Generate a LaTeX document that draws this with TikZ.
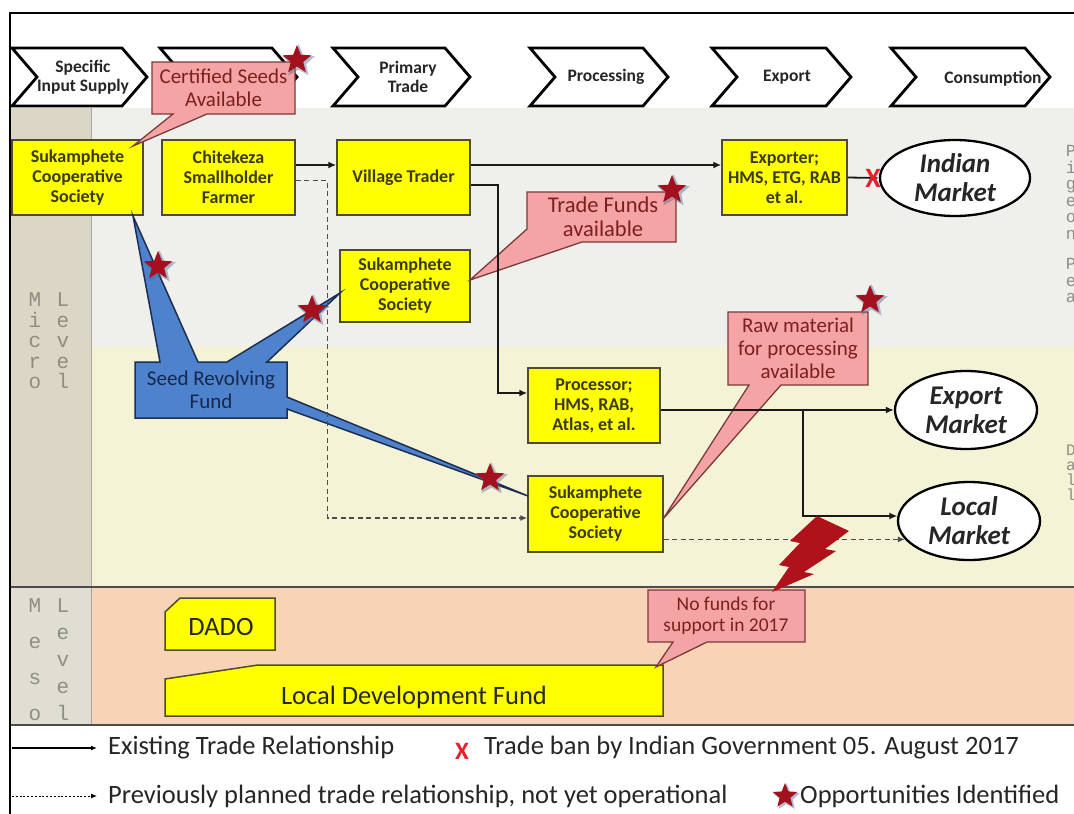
\documentclass[tikz,border=0pt]{standalone}
\usepackage{fontspec}
\setmainfont{Carlito}
\newfontfamily\typefont{Liberation Mono}
\usetikzlibrary{shapes.geometric,arrows.meta,calc}
\definecolor{grayband}{HTML}{EFEFEB}
\definecolor{yelband}{HTML}{F4F3D6}
\definecolor{microcol}{HTML}{DBD6C5}
\definecolor{mesocol}{HTML}{E0DDD3}
\definecolor{peach}{HTML}{F8D3B6}
\definecolor{yfill}{HTML}{FFFF00}
\definecolor{yborder}{HTML}{4D4D26}
\definecolor{ytext}{HTML}{3A3A14}
\definecolor{pfill}{HTML}{F4A4A4}
\definecolor{pborder}{HTML}{7A3A3A}
\definecolor{ptext}{HTML}{7D1F1F}
\definecolor{bfill}{HTML}{4E82CC}
\definecolor{bborder}{HTML}{1C2F52}
\definecolor{btext}{HTML}{15284D}
\definecolor{starred}{HTML}{A3101E}
\definecolor{starglow}{HTML}{5A6A9A}
\definecolor{boltred}{HTML}{B0121C}
\definecolor{lvlgray}{HTML}{8E8E84}
\definecolor{xred}{HTML}{E8202A}
\begin{document}
\begin{tikzpicture}[x=1pt,y=-1pt,
  chev/.style={draw=black, line width=2.8pt, fill=white, line join=miter},
  chevtext/.style={font=\fontsize{17.5}{19}\selectfont\bfseries, align=center, text=black!85, inner sep=0pt},
  ybox/.style={draw=yborder, fill=yfill, line width=1.5pt, font=\fontsize{18}{20}\selectfont\bfseries, text=ytext, align=center, inner sep=0pt},
  yshape/.style={draw=yborder, fill=yfill, line width=1.5pt, line join=miter},
  ytxt/.style={font=\fontsize{26.5}{28}\selectfont, text=black!85, inner sep=0pt},
  mkt/.style={ellipse, draw=black, line width=2.3pt, fill=white, font=\fontsize{27}{29}\selectfont\bfseries\itshape, text=black!85, align=center, inner sep=0pt},
  pcall/.style={fill=pfill, draw=pborder, line width=1.3pt, line join=miter},
  ptxt/.style={font=\fontsize{21}{23}\selectfont, text=ptext, align=center, inner sep=0pt},
  bcall/.style={fill=bfill, draw=bborder, line width=1.5pt, line join=miter},
  btxt/.style={font=\fontsize{21}{23}\selectfont, text=btext, align=center, inner sep=0pt},
  sarrow/.style={draw=black!90, line width=1.8pt, -{Latex[length=8pt,width=7pt]}},
  darrow/.style={draw=black!70, line width=1.3pt, dash pattern=on 5pt off 3.5pt, -{Latex[length=7pt,width=6pt]}},
  oppstar/.style={star, star points=5, star point ratio=2.3, fill=starred, inner sep=0pt, minimum size=30pt},
  glow/.style={star, star points=5, star point ratio=2.1, fill=starglow, opacity=0.45, inner sep=0pt, minimum size=34pt},
  lvl/.style={font=\typefont\fontsize{21}{20.5}\selectfont, text=lvlgray, align=center, inner sep=0pt},
  lvlr/.style={font=\typefont\fontsize{17}{16.5}\selectfont, text=lvlgray, align=center, inner sep=0pt},
  legtext/.style={font=\fontsize{26.5}{28}\selectfont, text=black!85, anchor=west, inner sep=0pt},
  redx/.style={font=\fontsize{28}{28}\selectfont\bfseries, text=xred, inner sep=0pt}
]
\useasboundingbox (0,0) rectangle (1074,814);

% background bands and level column
\fill[white] (0,0) rectangle (1074,814);
\fill[grayband] (91,108) rectangle (1074,347);
\fill[yelband] (91,347) rectangle (1074,587);
\fill[microcol] (11,108) rectangle (91,587);
\fill[peach] (91,587) rectangle (1074,725);
\fill[mesocol] (11,587) rectangle (91,725);
\draw[black!35, line width=1pt] (91,108) -- (91,725);
\draw[black!70, line width=1.4pt] (10,587) -- (1074,587);
\draw[black!70, line width=1.4pt] (10,725) -- (1074,725);
\draw[black, line width=1.5pt] (10,814) -- (10,13) -- (1074,13);

% value chain stages
\foreach \cx/\cw in {12/110,160/112,333/112,530/113,712/114,891/134}{
  \draw[chev] (\cx,48) -- ++(\cw,0) -- ++(25,29) -- ++(-25,29) -- ++(-\cw,0) -- ++(25,-29) -- cycle;
}
\node[chevtext] (st1) at (83,77) {Specific\\Input Supply};
\node[chevtext] (st3) at (408,77) {Primary\\Trade};
\node[chevtext] (st4) at (606,77) {Processing};
\node[chevtext] (st5) at (787,77) {Export};
\node[chevtext] (st6) at (993,79) {Consumption};

% level labels
\node[lvl] (micro) at (35,341) {M\\i\\c\\r\\o};
\node[lvl] (microlv) at (63,341) {L\\e\\v\\e\\l};
\node[lvl, font=\typefont\fontsize{21}{36}\selectfont] (meso) at (35,660) {M\\e\\s\\o};
\node[lvl, font=\typefont\fontsize{21}{27}\selectfont] (mesolv) at (63,660) {L\\e\\v\\e\\l};
\node[lvlr] (pigeon) at (1071,224) {P\\i\\g\\e\\o\\n\\[14pt]P\\e\\a};
\node[lvlr, font=\typefont\fontsize{16}{15}\selectfont] (dal) at (1071,473) {D\\a\\l\\l};

% actors
\node[ybox, minimum width=131pt, minimum height=75pt] (s1) at (77.5,177.5) {Sukamphete\\Cooperative\\Society};
\node[ybox, minimum width=133pt, minimum height=75pt] (cf) at (228.5,177.5) {Chitekeza\\Smallholder\\Farmer};
\node[ybox, minimum width=133pt, minimum height=75pt] (vt) at (403.5,177.5) {Village Trader};
\node[ybox, minimum width=125pt, minimum height=75pt] (ex) at (784.5,177.5) {Exporter;\\HMS, ETG, RAB\\et al.};
\node[ybox, minimum width=130pt, minimum height=72pt] (s2) at (405,286) {Sukamphete\\Cooperative\\Society};
\node[ybox, minimum width=132pt, minimum height=75pt] (pr) at (594,405.5) {Processor;\\HMS, RAB,\\Atlas, et al.};
\node[ybox, minimum width=135pt, minimum height=76pt] (s3) at (595.5,514) {Sukamphete\\Cooperative\\Society};

\node[mkt, minimum width=150pt, minimum height=76pt] (im) at (955,178) {Indian\\Market};
\node[mkt, minimum width=142pt, minimum height=78pt] (em) at (966,410) {Export\\Market};
\node[mkt, minimum width=142pt, minimum height=78pt] (lm) at (969,521) {Local\\Market};

% meso level institutions
\draw[yshape] (165,612) -- (180,598) -- (275,598) -- (275,650) -- (165,650) -- cycle;
\node[ytxt] (dado) at (221,627) {DADO};
\draw[yshape] (165,679) -- (258,665) -- (663,665) -- (663,716) -- (165,716) -- cycle;
\node[ytxt] (ldf) at (414,697) {Local Development Fund};

% callouts
\draw[pcall] (152,62) -- (295,62) -- (295,114) -- (207,114) -- (133,146) -- (173,114) -- (152,114) -- cycle;
\node[ptxt] (cst) at (223.5,88) {Certified Seeds\\Available};
\draw[pcall] (527,192) -- (676,192) -- (676,242) -- (582,242) -- (470,280) -- (527,229) -- cycle;
\node[ptxt, font=\fontsize{22.5}{24}\selectfont] (tft) at (603,217) {Trade Funds\\available};
\draw[pcall] (728,312) -- (868,312) -- (868,385) -- (781,385) -- (663,519) -- (749,385) -- (728,385) -- cycle;
\node[ptxt] (rmt) at (798,348) {Raw material\\for processing\\available};
\draw[pcall] (648,590) -- (805,590) -- (805,642) -- (707,642) -- (656,667) -- (673,642) -- (648,642) -- cycle;
\node[ptxt, font=\fontsize{19.5}{21}\selectfont] (nft) at (726,616) {No funds for\\support in 2017};

\draw[bcall] (135,362) -- (160,362) -- (133,216) -- (198,362) -- (227,362) -- (340,293) -- (267,362)
  -- (287,362) -- (287,397) -- (528,496) -- (287,409) -- (287,418) -- (135,418) -- cycle;
\node[btxt] (srft) at (211,390) {Seed Revolving\\Fund};

% trade relationships
\draw[sarrow] ([yshift=12.5pt]cf.east) -- ([yshift=12.5pt]vt.west);
\draw[sarrow] ([yshift=12.5pt]vt.east) -- ([yshift=12.5pt]ex.west);
\draw[sarrow] (ex.east) -- (im.west);
\draw[sarrow] ([yshift=-7.5pt]vt.east) -- ++(27,0) |- ([yshift=12.5pt]pr.west);
\draw[sarrow] (pr.east |- em.west) -- (em.west);
\coordinate (br) at (803,410);
\draw[sarrow] (br) |- (lm.176);
\draw[darrow] ([yshift=-3pt]cf.east) -- ++(32,0) |- ([yshift=-4pt]s3.west);
\draw[darrow] (s3.east |- lm.196) -- (lm.196);

% trade ban mark
\node[redx] (ban) at (873,178) {X};

% opportunity stars
\foreach \sx/\sy/\nm in {297/60/o1, 672/190/o2, 870/300/o3, 158/266/o4, 312/310/o5, 490/478/o6}{
  \node[glow] at (\sx+1.5,\sy+1.5) {};
  \node[oppstar] (\nm) at (\sx,\sy) {};
}

% funding gap bolt
\fill[boltred] (817,516) -- (849,531) -- (825,549) -- (836,551) -- (804,572) -- (814,574) -- (772,592)
  -- (789,567) -- (779,565) -- (800,543) -- (790,541) -- cycle;

% legend
\coordinate (la) at (12,748);
\coordinate (lb) at (97,748);
\draw[draw=black, line width=1.3pt, -{Latex[length=6pt,width=5pt]}] (la) -- (lb);
\node[legtext] (lt1) at (108,748) {Existing Trade Relationship};
\node[redx, font=\fontsize{25}{25}\selectfont\bfseries] (lx) at (462,751) {X};
\node[legtext] (lt2) at (484,748) {Trade ban by Indian Government 05. August 2017};
\coordinate (lc) at (12,796);
\coordinate (ld) at (97,796);
\draw[draw=black, line width=1pt, dash pattern=on 2pt off 1.8pt, -{Latex[length=6pt,width=5pt]}] (lc) -- (ld);
\node[legtext] (lt3) at (108,796) {Previously planned trade relationship, not yet operational};
\node[glow, minimum size=28pt] at (786.5,797.5) {};
\node[oppstar, minimum size=26pt] (lst) at (785,796) {};
\node[legtext] (lt4) at (800,796) {Opportunities Identified};
\end{tikzpicture}
\end{document}
